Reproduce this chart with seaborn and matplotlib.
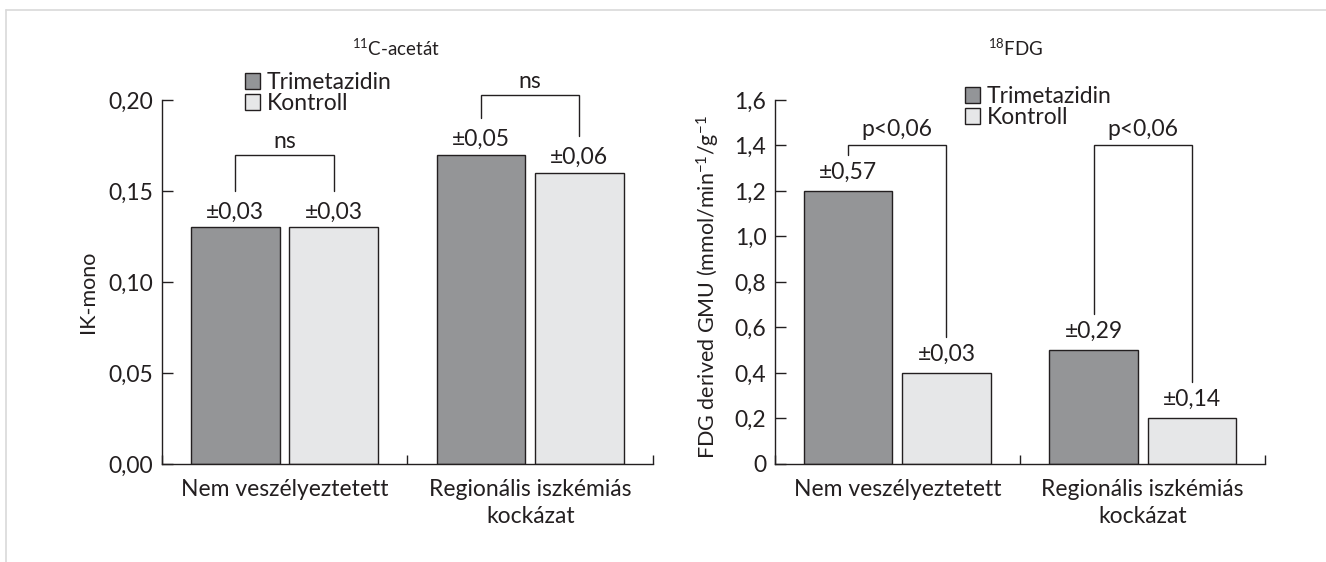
import matplotlib
matplotlib.use("Agg")
import matplotlib.pyplot as plt
import seaborn as sns
import pandas as pd
from matplotlib.lines import Line2D
from matplotlib.patches import Patch
from matplotlib.ticker import FuncFormatter, FixedLocator

# ---- data ---------------------------------------------------------------
categories = ["Nem veszélyeztetett", "Regionális iszkémiás\nkockázat"]
groups = ["Trimetazidin", "Kontroll"]

acetate_trimetazidin = [0.13, 0.17]
acetate_kontroll = [0.13, 0.16]
acetate_sd_trimetazidin = [0.03, 0.05]
acetate_sd_kontroll = [0.03, 0.06]
acetate_p_labels = ["ns", "ns"]

fdg_trimetazidin = [1.2, 0.5]
fdg_kontroll = [0.4, 0.2]
fdg_sd_trimetazidin = [0.57, 0.29]
fdg_sd_kontroll = [0.03, 0.14]
fdg_p_labels = ["p<0,06", "p<0,06"]

acetate_ticks = [0.00, 0.05, 0.10, 0.15, 0.20]
fdg_ticks = [0, 0.2, 0.4, 0.6, 0.8, 1.0, 1.2, 1.4, 1.6]

# ---- style --------------------------------------------------------------
sns.set_theme(style="white")
FONT = "Lato"
plt.rcParams["font.family"] = [FONT, "DejaVu Sans"]
plt.rcParams["mathtext.fontset"] = "custom"
plt.rcParams["mathtext.rm"] = FONT
plt.rcParams["mathtext.it"] = FONT
plt.rcParams["mathtext.default"] = "rm"

DARK = "#939598"
LIGHT = "#e6e7e8"
INK = "#231f20"
palette = {"Trimetazidin": DARK, "Kontroll": LIGHT}

TICK_FS = 16.5
NOTE_FS = 16.5
LABEL_FS = 15.5
LEGEND_FS = 16.5
TITLE_FS = 13.5

fig = plt.figure(figsize=(13.26, 5.62), dpi=100)
ax1 = fig.add_axes([0.1219, 0.1744, 0.3706, 0.6477])
ax2 = fig.add_axes([0.5842, 0.1744, 0.3701, 0.6477])


def long_frame(trim, kontr):
    rows = []
    for cat, t, k in zip(categories, trim, kontr):
        rows.append({"kategoria": cat, "csoport": groups[0], "ertek": t})
        rows.append({"kategoria": cat, "csoport": groups[1], "ertek": k})
    return pd.DataFrame(rows)


def fmt_comma(decimals, zero_plain=False):
    def f(v, pos):
        if zero_plain and abs(v) < 1e-9:
            return "0"
        return f"{v:.{decimals}f}".replace(".", ",")
    return f


def draw_panel(ax, trim, kontr, sd_t, sd_k, p_labels, bracket_tops, ticks,
               decimals, zero_plain, ylabel, label_xy, title, title_x,
               sd_offset, p_offset, legend_xy):
    df = long_frame(trim, kontr)
    sns.barplot(data=df, x="kategoria", y="ertek", hue="csoport",
                order=categories, hue_order=groups, palette=palette,
                width=0.8, gap=0.1, edgecolor=INK, linewidth=1.0,
                errorbar=None, legend=False, ax=ax)
    ymax = ticks[-1]
    ax.set_xlim(-0.5, 1.5)
    ax.set_ylim(0, ymax)
    for s in ("top", "right"):
        ax.spines[s].set_visible(False)
    for s in ("left", "bottom"):
        ax.spines[s].set_color(INK)
        ax.spines[s].set_linewidth(1.0)

    ax.yaxis.set_major_locator(FixedLocator(ticks))
    ax.yaxis.set_major_formatter(FuncFormatter(fmt_comma(decimals, zero_plain)))
    ax.tick_params(axis="y", direction="in", length=8, width=1.0,
                   color=INK, labelsize=TICK_FS, labelcolor=INK, pad=6,
                   left=True)
    ax.xaxis.set_minor_locator(FixedLocator([-0.5, 0.5, 1.5]))
    ax.tick_params(axis="x", which="minor", direction="in", length=6.5,
                   width=1.0, color=INK, bottom=True)
    ax.tick_params(axis="x", which="major", length=0, labelsize=TICK_FS,
                   labelcolor=INK, pad=11)
    for lab in ax.get_xticklabels():
        lab.set_linespacing(1.35)
    ax.set_xlabel("")
    ax.set_ylabel(ylabel, fontsize=LABEL_FS, color=INK)
    ax.yaxis.set_label_coords(*label_xy)
    ax.yaxis.label.set_verticalalignment("center")

    # bar tops, SD labels, brackets
    span = ymax
    tops = []
    for container, sds in zip(ax.containers, (sd_t, sd_k)):
        row = []
        for bar, sd in zip(container, sds):
            xc = bar.get_x() + bar.get_width() / 2
            h = bar.get_height()
            row.append((xc, h))
            ax.annotate("±" + f"{sd:.2f}".replace(".", ","), (xc, h),
                        xytext=(0, sd_offset), textcoords="offset points",
                        ha="center", va="baseline", fontsize=NOTE_FS,
                        color=INK, annotation_clip=False)
        tops.append(row)
    for i, (lab, top) in enumerate(zip(p_labels, bracket_tops)):
        (xa, ha_), (xb, hb) = tops[0][i], tops[1][i]
        leg = 0.1 * span
        ax.plot([xa, xa, xb, xb], [ha_ + leg, top, top, hb + leg],
                color=INK, lw=1.0, clip_on=False, solid_joinstyle="miter")
        ax.annotate(lab, ((xa + xb) / 2, top), xytext=(0, p_offset),
                    textcoords="offset points", ha="center", va="baseline",
                    fontsize=NOTE_FS, color=INK, annotation_clip=False)

    fig.text(title_x, 0.9146, title, ha="center", va="center",
             fontsize=TITLE_FS, color=INK)

    handles = [Patch(facecolor=palette[g], edgecolor=INK, linewidth=1.0)
               for g in groups]
    ax.legend(handles, groups, loc="upper left",
              bbox_to_anchor=legend_xy, bbox_transform=fig.transFigure,
              frameon=False, fontsize=LEGEND_FS, handlelength=0.65,
              handleheight=0.65, handletextpad=0.3, labelspacing=0.0,
              borderpad=0, borderaxespad=0, labelcolor=INK)


draw_panel(ax1, acetate_trimetazidin, acetate_kontroll,
           acetate_sd_trimetazidin, acetate_sd_kontroll, acetate_p_labels,
           [0.17, 0.2027], acetate_ticks, 2, False,
           "IK-mono", (-0.1498, 0.4725),
           r"$^{11}$C-acetát", 0.2983, 6.5, 5,
           (0.1848, 1 - 72 / 562))
draw_panel(ax2, fdg_trimetazidin, fdg_kontroll,
           fdg_sd_trimetazidin, fdg_sd_kontroll, fdg_p_labels,
           [1.40, 1.40], fdg_ticks, 1, True,
           r"FDG derived GMU (mmol/min$^{-1}$/g$^{-1}$", (-0.134, 0.486),
           r"$^{18}$FDG", 0.7662, 9, 7,
           (0.7278, 1 - 86 / 562))

# thin page frame along the top and left edge
frame = "#d9d9d9"
fig.add_artist(Line2D([6 / 1326, 1], [1 - 10 / 562, 1 - 10 / 562],
                      transform=fig.transFigure, color=frame, lw=1.2))
fig.add_artist(Line2D([6 / 1326, 6 / 1326], [0, 1 - 10 / 562],
                      transform=fig.transFigure, color=frame, lw=1.2))

fig.savefig("out.png", dpi=100, facecolor="white")
